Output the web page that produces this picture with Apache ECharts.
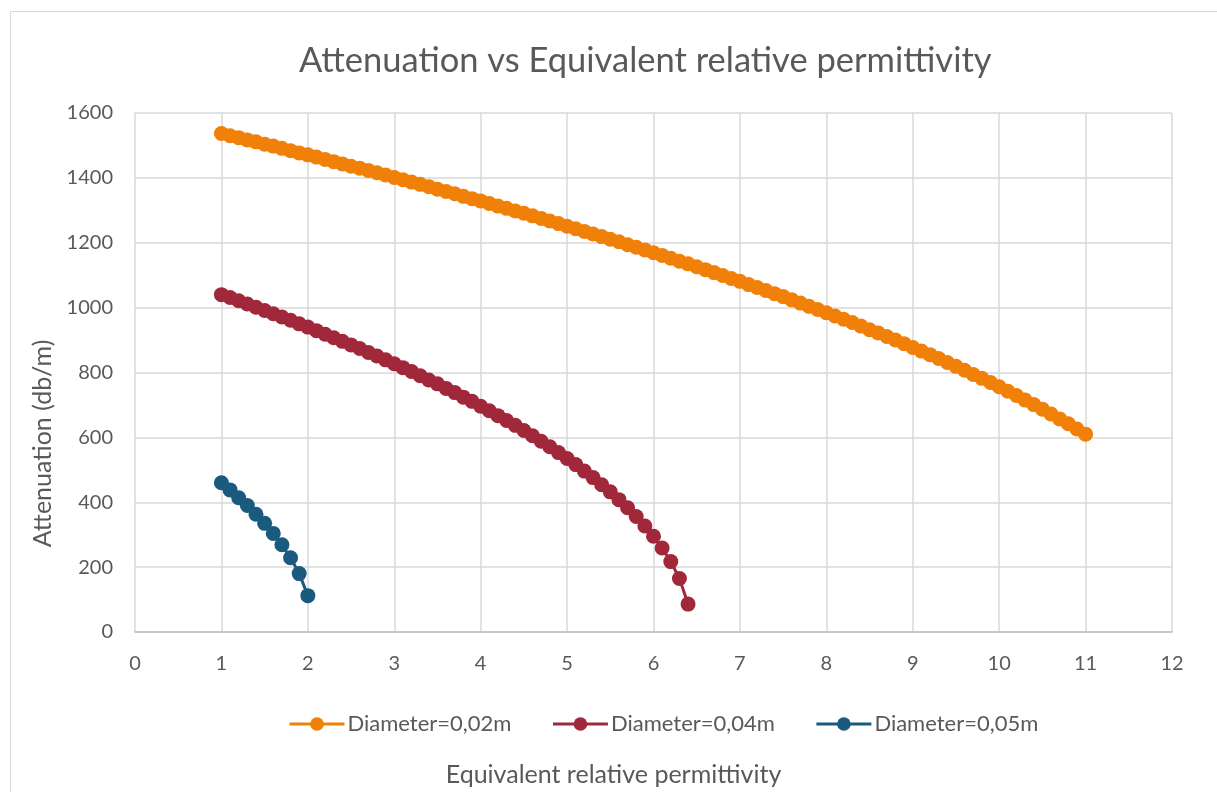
<!DOCTYPE html>
<html>
<head>
<meta charset="utf-8">
<title>Attenuation vs Equivalent relative permittivity</title>
<script src="https://cdn.jsdelivr.net/npm/echarts@6/dist/echarts.min.js"></script>
<style>
  html, body { margin: 0; padding: 0; background: #fff; overflow: hidden; }
  #frame { position: absolute; left: 10px; top: 11px; width: 1400px; height: 1000px; border: 1px solid #d9d9d9; }
  #chart { position: absolute; left: 0; top: 0; width: 1217px; height: 792px; }
</style>
</head>
<body>
<div id="frame"></div>
<div id="chart"></div>
<script>
// permittivity values (x) and attenuation in db/m (y)
const eps002 = [1, 1.1, 1.2, 1.3, 1.4, 1.5, 1.6, 1.7, 1.8, 1.9,
  2, 2.1, 2.2, 2.3, 2.4, 2.5, 2.6, 2.7, 2.8, 2.9,
  3, 3.1, 3.2, 3.3, 3.4, 3.5, 3.6, 3.7, 3.8, 3.9,
  4, 4.1, 4.2, 4.3, 4.4, 4.5, 4.6, 4.7, 4.8, 4.9,
  5, 5.1, 5.2, 5.3, 5.4, 5.5, 5.6, 5.7, 5.8, 5.9,
  6, 6.1, 6.2, 6.3, 6.4, 6.5, 6.6, 6.7, 6.8, 6.9,
  7, 7.1, 7.2, 7.3, 7.4, 7.5, 7.6, 7.7, 7.8, 7.9,
  8, 8.1, 8.2, 8.3, 8.4, 8.5, 8.6, 8.7, 8.8, 8.9,
  9, 9.1, 9.2, 9.3, 9.4, 9.5, 9.6, 9.7, 9.8, 9.9,
  10, 10.1, 10.2, 10.3, 10.4, 10.5, 10.6, 10.7, 10.8, 10.9, 11];
const att002 = [1537, 1530, 1524, 1517, 1511, 1504, 1498, 1491, 1484, 1477,
  1471, 1464, 1457, 1450, 1443, 1436, 1430, 1423, 1416, 1409,
  1401, 1394, 1387, 1380, 1373, 1365, 1358, 1351, 1343, 1336,
  1329, 1321, 1313, 1306, 1298, 1291, 1283, 1275, 1267, 1259,
  1251, 1243, 1235, 1227, 1219, 1211, 1203, 1194, 1186, 1178,
  1169, 1161, 1152, 1143, 1135, 1126, 1117, 1108, 1099, 1090,
  1081, 1071, 1062, 1053, 1043, 1034, 1024, 1014, 1004, 994,
  984, 974, 964, 954, 943, 932, 922, 911, 900, 889,
  877, 866, 855, 843, 831, 819, 807, 794, 782, 769,
  756, 742, 729, 715, 701, 687, 672, 657, 642, 626, 610];

const eps004 = [1, 1.1, 1.2, 1.3, 1.4, 1.5, 1.6, 1.7, 1.8, 1.9,
  2, 2.1, 2.2, 2.3, 2.4, 2.5, 2.6, 2.7, 2.8, 2.9,
  3, 3.1, 3.2, 3.3, 3.4, 3.5, 3.6, 3.7, 3.8, 3.9,
  4, 4.1, 4.2, 4.3, 4.4, 4.5, 4.6, 4.7, 4.8, 4.9,
  5, 5.1, 5.2, 5.3, 5.4, 5.5, 5.6, 5.7, 5.8, 5.9,
  6, 6.1, 6.2, 6.3, 6.4];
const att004 = [1040, 1031, 1021, 1011, 1001, 991, 981, 971, 961, 950,
  940, 929, 918, 907, 896, 885, 874, 862, 851, 839,
  827, 815, 803, 790, 777, 765, 751, 738, 724, 711,
  696, 682, 667, 652, 637, 621, 605, 588, 571, 553,
  535, 516, 496, 476, 454, 432, 408, 383, 356, 327,
  295, 259, 217, 165, 86];

const eps005 = [1, 1.1, 1.2, 1.3, 1.4, 1.5, 1.6, 1.7, 1.8, 1.9, 2];
const att005 = [460, 438, 414, 390, 363, 335, 304, 269, 229, 180, 112];

const seriesNames = ['Diameter=0,02m', 'Diameter=0,04m', 'Diameter=0,05m'];
const seriesColors = ['#f08008', '#a1283b', '#1b5a7f'];

const zip = (xs, ys) => xs.map((x, i) => [x, ys[i]]);
const textColor = '#595959';
const font = 'Lato';

const chart = echarts.init(document.getElementById('chart'));
const makeSeries = (i, xs, ys) => ({
  name: seriesNames[i],
  type: 'line',
  data: zip(xs, ys),
  symbol: 'circle',
  symbolSize: 15,
  showSymbol: true,
  color: seriesColors[i],
  lineStyle: { width: 3, color: seriesColors[i] },
  itemStyle: { color: seriesColors[i] },
  animation: false
});

chart.setOption({
  backgroundColor: 'transparent',
  title: {
    text: 'Attenuation vs Equivalent relative permittivity',
    left: 294,
    top: 38,
    textStyle: { fontFamily: font, fontSize: 34.5, fontWeight: 'normal', color: textColor }
  },
  legend: {
    data: seriesNames,
    top: 708,
    left: 283,
    itemWidth: 55,
    itemHeight: 17,
    itemGap: 40,
    lineStyle: { width: 3 },
    textStyle: { fontFamily: font, fontSize: 22, color: textColor, padding: [0, 0, 0, -2] }
  },
  grid: { left: 135, right: 45, top: 113, bottom: 159, containLabel: false },
  xAxis: {
    type: 'value',
    min: 0, max: 12, interval: 1,
    name: 'Equivalent relative permittivity',
    nameLocation: 'middle',
    nameGap: 130,
    nameTextStyle: { fontFamily: font, fontSize: 25, color: textColor, padding: [0, 80, 0, 0] },
    axisLine: { show: true, lineStyle: { color: '#bfbfbf', width: 1.5 } },
    axisTick: { show: false },
    axisLabel: { fontFamily: font, fontSize: 20, color: textColor, margin: 22 },
    splitLine: { show: true, lineStyle: { color: '#d9d9d9', width: 1.5 } }
  },
  yAxis: {
    type: 'value',
    min: 0, max: 1600, interval: 200,
    name: 'Attenuation (db/m)',
    nameLocation: 'middle',
    nameGap: 77,
    nameTextStyle: { fontFamily: font, fontSize: 25, color: textColor, padding: [0, 142, 0, 0] },
    axisLine: { show: false },
    axisTick: { show: false },
    axisLabel: { fontFamily: font, fontSize: 20, color: textColor, margin: 22, formatter: v => String(v) },
    splitLine: { show: true, lineStyle: { color: '#d9d9d9', width: 1.5 } }
  },
  series: [
    makeSeries(0, eps002, att002),
    makeSeries(1, eps004, att004),
    makeSeries(2, eps005, att005)
  ]
});
</script>
</body>
</html>
